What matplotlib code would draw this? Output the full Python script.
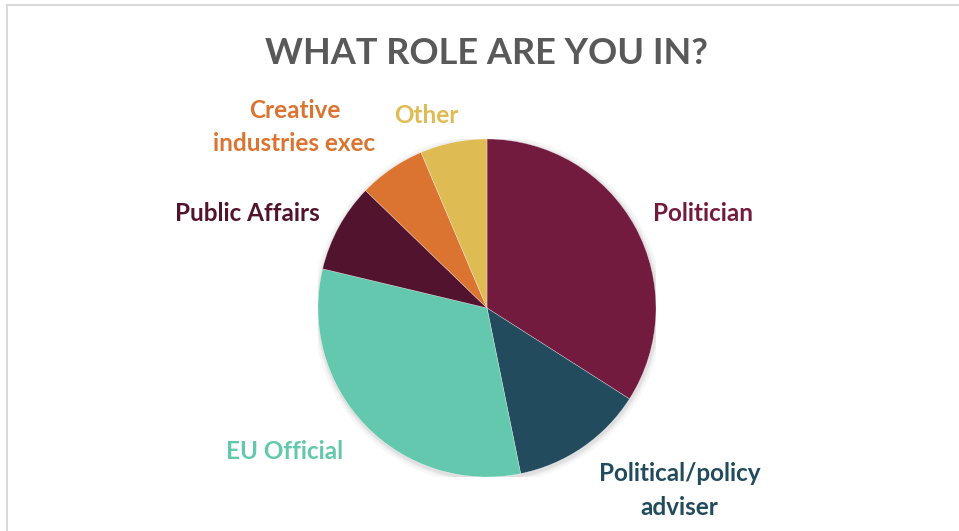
import numpy as np
import matplotlib.pyplot as plt
from matplotlib.lines import Line2D

# survey answers
roles = ['Politician', 'Political/policy\nadviser', 'EU Official',
         'Public Affairs', 'Creative\nindustries exec', 'Other']
counts = [16, 6, 15, 4, 3, 3]
colors = ['#721b3f', '#224b5e', '#63c8ae', '#52132e', '#db7430', '#dfbb53']

# label anchors in pie units (radius 1)
label_x = [1.28, 1.14, -1.20, -1.42, -1.14, -0.36]
label_y = [0.56, -1.08, -0.85, 0.56, 1.07, 1.14]

W, H = 959, 531
fig = plt.figure(figsize=(W / 100, H / 100), dpi=100)
fig.patch.set_facecolor('white')

# frame lines along top and left
fig.add_artist(Line2D([6.5 / W, 1], [1 - 5 / H, 1 - 5 / H], color='#d9d9d9', lw=1.5))
fig.add_artist(Line2D([6.5 / W, 6.5 / W], [0, 1 - 5 / H], color='#d9d9d9', lw=1.5))

cx, cy, r = 487, 308, 169
ax = fig.add_axes([(cx - r) / W, (H - cy - r) / H, 2 * r / W, 2 * r / H])

# soft shadow
for k, a in zip([1.035, 1.02, 1.01], [0.03, 0.04, 0.05]):
    ax.add_patch(plt.Circle((0.005, -0.01), k, color='black', alpha=a, lw=0, zorder=0))

wedges, _ = ax.pie(counts, colors=colors, startangle=90, counterclock=False,
                   radius=1, wedgeprops=dict(lw=0.4, edgecolor='#ffffff80'))
for w in wedges:
    w.set_zorder(2)

ax.set_xlim(-1, 1)
ax.set_ylim(-1, 1)
ax.set_aspect('equal')
ax.axis('off')

for name, c, x, y in zip(roles, colors, label_x, label_y):
    ax.text(x, y, name, color=c, fontsize=17.5, fontweight='bold', family='Lato',
            ha='center', va='center', linespacing=1.55, clip_on=False)

fig.text(486 / W, 1 - 53 / H, 'WHAT ROLE ARE YOU IN?', color='#595959',
         fontsize=26, fontweight='bold', family='Lato', ha='center', va='center')

fig.savefig('out.png', dpi=100)
